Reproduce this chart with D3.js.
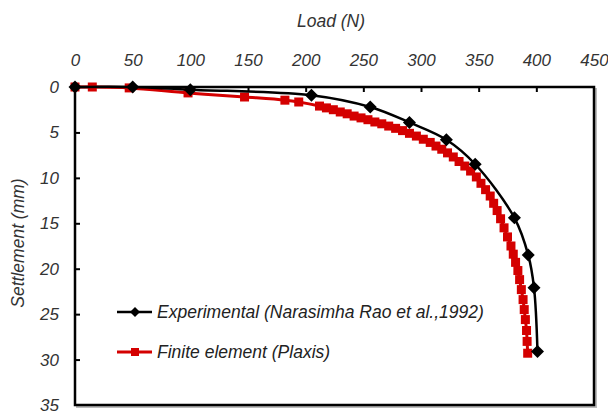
<!DOCTYPE html>
<html>
<head>
<meta charset="utf-8">
<script src="https://cdn.jsdelivr.net/npm/d3@7"></script>
<style>
  body { margin: 0; background: #fff; }
  text { font-family: "Liberation Sans", Arial, sans-serif; font-style: italic; }
</style>
</head>
<body>
<div id="chart"></div>
<script>
// experimental points (Narasimha Rao et al., 1992)
var expLoad = [0, 50, 100, 205, 256, 290, 322, 347, 381, 393, 398, 401];
var expSettle = [0, 0, 0.3, 0.9, 2.2, 3.9, 5.8, 8.5, 14.4, 18.5, 22.1, 29.1];

// finite element (Plaxis) points
var feLoad = [0, 15, 47, 98, 147, 182, 194, 212, 218, 224, 230, 236, 242, 248, 254, 260, 266, 272, 278, 284,
  290, 296, 302, 308, 313, 318, 323, 328, 333, 338, 343, 348, 352, 356, 360, 363, 366, 369, 372, 375,
  378, 380, 382, 384, 385.5, 387, 388.5, 389.5, 390.5, 391.5, 392, 392.5];
var feSettle = [0, 0, 0.1, 0.65, 1.1, 1.45, 1.65, 2.1, 2.3, 2.5, 2.75, 2.95, 3.2, 3.4, 3.6, 3.85, 4.05, 4.3, 4.55, 4.8,
  5.1, 5.4, 5.75, 6.1, 6.5, 6.85, 7.25, 7.7, 8.2, 8.7, 9.25, 9.9, 10.6, 11.3, 12.0, 12.8, 13.6, 14.5, 15.5, 16.5,
  17.5, 18.4, 19.3, 20.2, 21.2, 22.3, 23.4, 24.5, 25.6, 26.8, 28.0, 29.3];

var xTicks = [0, 50, 100, 150, 200, 250, 300, 350, 400, 450];
var yTicks = [0, 5, 10, 15, 20, 25, 30, 35];

var seriesNames = ["Experimental (Narasimha Rao et al.,1992)", "Finite element (Plaxis)"];

var margin = { top: 87, left: 75 },
  width = 519,
  height = 318;

var svg = d3.select("#chart")
  .append("svg")
  .attr("width", 608)
  .attr("height", 418);

var g = svg.append("g")
  .attr("transform", "translate(" + margin.left + "," + margin.top + ")");

var x = d3.scaleLinear().domain([0, 450]).range([0, width]);
var y = d3.scaleLinear().domain([0, 35]).range([0, height]);

// frame with a light shadow
g.append("rect")
  .attr("x", 2).attr("y", 2)
  .attr("width", width).attr("height", height)
  .style("fill", "none").style("stroke", "#bbb").style("stroke-width", 2);
g.append("rect")
  .attr("width", width).attr("height", height)
  .style("fill", "#fff").style("stroke", "#000").style("stroke-width", 2.5);

// axes
var xAxis = g.append("g")
  .call(d3.axisTop(x).tickValues(xTicks).tickSize(-5).tickPadding(21));
var yAxis = g.append("g")
  .call(d3.axisLeft(y).tickValues(yTicks).tickSize(-5).tickPadding(16));

[xAxis, yAxis].forEach(function(a) {
  a.select(".domain").remove();
  a.selectAll("line").style("stroke", "#000").style("stroke-width", 2);
  a.selectAll("text")
    .style("font-size", "17px")
    .style("fill", "#333")
    .style("font-family", '"Liberation Sans", Arial, sans-serif');
});
xAxis.selectAll(".tick").filter(function(d) { return d == 0 || d == 450 }).select("line").remove();
yAxis.selectAll(".tick").filter(function(d) { return d == 0 || d == 35 }).select("line").remove();

// axis titles
svg.append("text")
  .attr("x", 331).attr("y", 27)
  .attr("text-anchor", "middle")
  .style("font-size", "17.5px").style("fill", "#333")
  .text("Load (N)");

svg.append("text")
  .attr("transform", "translate(24,243) rotate(-90)")
  .attr("text-anchor", "middle")
  .style("font-size", "17.5px").style("fill", "#333")
  .text("Settlement (mm)");

var line = d3.line()
  .x(function(d) { return x(d[0]) })
  .y(function(d) { return y(d[1]) })
  .curve(d3.curveCatmullRom);

var expData = expLoad.map(function(v, i) { return [v, expSettle[i]] });
var feData = feLoad.map(function(v, i) { return [v, feSettle[i]] });

function diamond(r) {
  return "M0," + (-r) + "L" + r + ",0L0," + r + "L" + (-r) + ",0Z";
}

// finite element series
g.append("path")
  .datum(feData)
  .attr("d", line)
  .style("fill", "none").style("stroke", "#d40000").style("stroke-width", 3);
g.selectAll(".fe")
  .data(feData)
  .enter()
  .append("rect")
  .attr("class", "fe")
  .attr("x", function(d) { return x(d[0]) - 4.5 })
  .attr("y", function(d) { return y(d[1]) - 4.5 })
  .attr("width", 9).attr("height", 9)
  .style("fill", "#d40000");

// experimental series
g.append("path")
  .datum(expData)
  .attr("d", line)
  .style("fill", "none").style("stroke", "#000").style("stroke-width", 2.5);
g.selectAll(".exp")
  .data(expData)
  .enter()
  .append("path")
  .attr("class", "exp")
  .attr("transform", function(d) { return "translate(" + x(d[0]) + "," + y(d[1]) + ")" })
  .attr("d", diamond(6.5))
  .style("fill", "#000");

// legend
var legend = svg.append("g");
var legY = [312, 352];
var legColor = ["#000", "#d40000"];
seriesNames.forEach(function(name, i) {
  legend.append("line")
    .attr("x1", 117).attr("x2", 152)
    .attr("y1", legY[i]).attr("y2", legY[i])
    .style("stroke", legColor[i]).style("stroke-width", i == 0 ? 2.5 : 3);
  if (i == 0) {
    legend.append("path")
      .attr("transform", "translate(135," + legY[i] + ")")
      .attr("d", diamond(5))
      .style("fill", "#000");
  } else {
    legend.append("rect")
      .attr("x", 131).attr("y", legY[i] - 4)
      .attr("width", 8).attr("height", 8)
      .style("fill", "#d40000");
  }
  legend.append("text")
    .attr("x", 157).attr("y", legY[i] + 6)
    .style("font-size", "17.5px").style("fill", "#222")
    .text(name);
});
</script>
</body>
</html>
